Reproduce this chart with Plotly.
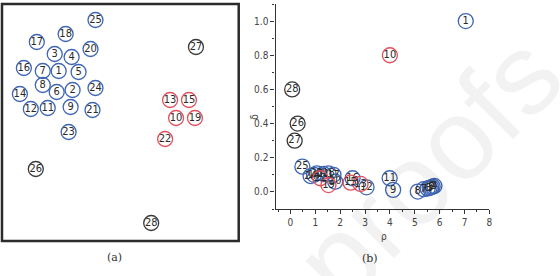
import plotly.graph_objects as go

# ---------- panel (a): point layout (position in the unit box, y down) ----------
a_labels = [25, 18, 17, 20, 3, 4, 16, 7, 1, 5, 8, 24, 14, 6, 2, 12, 11, 9, 21, 23, 26, 27, 13, 15, 10, 19, 22, 28]
a_x = [96, 66, 37, 91, 55, 72, 24, 43, 59, 79, 43, 96, 20, 57, 73, 31, 48, 71, 93, 69, 36, 197, 171, 190, 177, 196, 166, 152]
a_y = [20, 34, 42, 49, 54, 57, 68, 71, 71, 72, 85, 88, 94, 92, 90, 109, 108, 107, 110, 132, 169, 47, 100, 100, 118, 118, 139, 223]
a_group = ["b"] * 20 + ["k", "k"] + ["r"] * 5 + ["k"]

# ---------- panel (b): decision graph (rho, delta) ----------
b_labels = [1, 10, 28, 26, 27, 25, 14, 24, 23, 22, 21, 18, 17, 19, 20, 16, 15, 13, 12, 11, 9, 8, 7, 6, 3, 5, 2, 4]
b_rho = [7.05, 4.0, 0.07, 0.29, 0.17, 0.48, 0.95, 0.81, 1.06, 1.2, 1.33, 1.53, 1.73, 1.53, 1.8, 2.5, 2.42, 2.82, 3.06, 3.99, 4.13, 5.12, 5.36, 5.52, 5.6, 5.66, 5.72, 5.79]
b_delta = [1.0, 0.8, 0.6, 0.4, 0.3, 0.148, 0.1, 0.093, 0.109, 0.08, 0.105, 0.109, 0.10, 0.04, 0.06, 0.08, 0.054, 0.047, 0.027, 0.08, 0.012, 0.002, 0.016, 0.02, 0.024, 0.027, 0.031, 0.035]
b_group = ["b", "r", "k", "k", "k"] + ["b"] * 4 + ["r"] + ["b"] * 3 + ["r", "b", "b", "r", "r"] + ["b"] * 10

x_ticks = [0, 1, 2, 3, 4, 5, 6, 7, 8]
y_ticks = [0.0, 0.2, 0.4, 0.6, 0.8, 1.0]

COL = {"b": "#3f66b3", "r": "#e2505b", "k": "#3a3a3a"}
NARROW = "Liberation Sans Narrow, Arial Narrow, DejaVu Sans Condensed, sans-serif"
W, H = 560, 276

fig = go.Figure()

def add_points(xs, ys, labels, groups, xa, ya, size):
    for g in ["b", "r", "k"]:
        idx = [i for i, gg in enumerate(groups) if gg == g]
        fig.add_trace(go.Scatter(
            x=[xs[i] for i in idx], y=[ys[i] for i in idx],
            text=[str(labels[i]) for i in idx],
            mode="markers+text", textposition="middle center",
            textfont=dict(family=NARROW, size=11, color="#2a2a2a"),
            marker=dict(symbol="circle-open", size=size, color=COL[g], line=dict(width=1.3, color=COL[g])),
            xaxis=xa, yaxis=ya, showlegend=False, cliponaxis=False, hoverinfo="skip"))

add_points(a_x, a_y, a_labels, a_group, "x", "y", 15)
add_points(b_rho, b_delta, b_labels, b_group, "x2", "y2", 15)

def px_x(p):
    return p / W

def px_y(p):
    return 1 - p / H

axis_font = dict(family=NARROW, size=10, color="#444")
fig.update_layout(
    width=W, height=H, margin=dict(l=0, r=0, t=0, b=0),
    paper_bgcolor="white", plot_bgcolor="rgba(0,0,0,0)",
    xaxis=dict(domain=[px_x(2), px_x(240)], range=[2, 240], visible=False),
    yaxis=dict(domain=[px_y(241), px_y(4)], range=[241, 4], visible=False),
    xaxis2=dict(domain=[px_x(277), px_x(492)], range=[-0.6, 8], anchor="y2",
                tickvals=x_ticks, ticktext=[str(v) for v in x_ticks],
                showgrid=False, zeroline=False, showline=True, linecolor="#333", linewidth=1.2,
                ticks="outside", ticklen=4, tickcolor="#333", tickfont=axis_font,
                minor=dict(ticks="outside", dtick=0.5, tick0=0, ticklen=2, tickcolor="#333")),
    yaxis2=dict(domain=[px_y(209), px_y(4)], range=[-0.1, 1.1], anchor="x2",
                tickvals=y_ticks, ticktext=["%.1f" % v for v in y_ticks],
                showgrid=False, zeroline=False, showline=True, linecolor="#333", linewidth=1.2,
                ticks="outside", ticklen=4, tickcolor="#333", tickfont=axis_font,
                minor=dict(ticks="outside", dtick=0.1, tick0=0, ticklen=2, tickcolor="#333")),
)

# border box of panel (a)
fig.add_shape(type="rect", xref="paper", yref="paper",
              x0=px_x(2), x1=px_x(240), y0=px_y(241), y1=px_y(4),
              line=dict(color="#2b2b2b", width=2.5), fillcolor="rgba(0,0,0,0)")

ann = []
ann.append(dict(text="proofs", x=px_x(430), y=px_y(168), xref="paper", yref="paper", showarrow=False,
                xanchor="center", yanchor="middle",
                textangle=-45, font=dict(family="Liberation Sans, Arial, sans-serif", size=115, color="rgba(0,0,0,0.05)")))
ann.append(dict(text="δ", x=px_x(255), y=px_y(117), xref="paper", yref="paper", showarrow=False,
                xanchor="center", yanchor="middle",
                textangle=-90, font=dict(family=NARROW, size=10, color="#444")))
ann.append(dict(text="ρ", x=px_x(386), y=px_y(236), xref="paper", yref="paper", showarrow=False,
                xanchor="center", yanchor="middle",
                font=dict(family=NARROW, size=10, color="#444")))
ann.append(dict(text="(a)", x=px_x(115), y=px_y(257), xref="paper", yref="paper", showarrow=False,
                xanchor="center", yanchor="middle",
                font=dict(family="DejaVu Serif, Liberation Serif, serif", size=11, color="#333333")))
ann.append(dict(text="(b)", x=px_x(372), y=px_y(258), xref="paper", yref="paper", showarrow=False,
                xanchor="center", yanchor="middle",
                font=dict(family="DejaVu Serif, Liberation Serif, serif", size=11, color="#333333")))
fig.update_layout(annotations=ann)

fig.write_html("out.html")
